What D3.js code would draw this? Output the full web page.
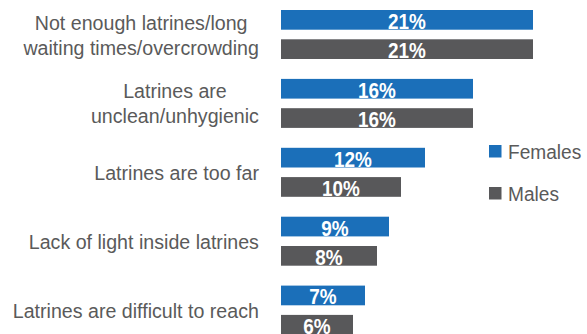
<!DOCTYPE html>
<html>
<head>
<meta charset="utf-8">
<script src="https://cdn.jsdelivr.net/npm/d3@7"></script>
<style>
  html, body { margin: 0; padding: 0; background: #fff; }
  svg { display: block; }
</style>
</head>
<body>
<svg id="chart" width="587" height="334"></svg>
<script>
const categories = [
  "Not enough latrines/long\nwaiting times/overcrowding",
  "Latrines are\nunclean/unhygienic",
  "Latrines are too far",
  "Lack of light inside latrines",
  "Latrines are difficult to reach"
];
const series = ["Females", "Males"];
const females = [21, 16, 12, 9, 7];
const males = [21, 16, 10, 8, 6];
const valueLabels = { Females: females.map(v => v + "%"), Males: males.map(v => v + "%") };

const colors = { Females: "#1b6fb9", Males: "#58585a" };
const textColor = "#5a5a5a";
const labelFont = "'Liberation Sans', Arial, sans-serif";
const labelScale = 0.935;
const legendScale = 0.91;
const valueScale = 0.86;

const svg = d3.select("#chart");

const x = d3.scaleLinear().domain([0, 21]).range([281, 533]);
const y0 = d3.scaleBand().domain(categories).range([10, 10 + 5 * 68.9]).paddingInner(0).paddingOuter(0);
const y1 = d3.scaleBand().domain(series).range([0, 49]).paddingInner(0.3276).paddingOuter(0);

const rows = categories.map((c, i) => ({ cat: c, Females: females[i], Males: males[i], i }));

const groups = svg.selectAll("g.group").data(rows).join("g")
  .attr("class", "group")
  .attr("transform", d => `translate(0,${y0(d.cat)})`);

groups.selectAll("rect").data(d => series.map(s => ({ s, v: d[s], i: d.i }))).join("rect")
  .attr("x", x(0))
  .attr("y", d => y1(d.s))
  .attr("width", d => x(d.v) - x(0))
  .attr("height", y1.bandwidth())
  .attr("fill", d => colors[d.s]);

groups.selectAll("text.val").data(d => series.map(s => ({ s, v: d[s], i: d.i }))).join("text")
  .attr("class", "val")
  .attr("transform", d => `translate(${(x(d.v) + x(0)) / 2},${y1(d.s) + y1.bandwidth() / 2 + 9}) scale(${valueScale},1)`)
  .attr("text-anchor", "middle")
  .attr("fill", "#ffffff")
  .attr("font-family", labelFont)
  .attr("font-weight", "bold")
  .attr("font-size", "22px")
  .text(d => valueLabels[d.s][d.i]);

// Category labels (multi-line, centred block aligned to the right)
const labelRight = 259;
const lineH = 25;
const centerOffset = y1.range()[1] / 2;
rows.forEach(d => {
  const lines = d.cat.split("\n");
  const g = svg.append("g").attr("class", "cat-label");
  const items = lines.map((ln, k) => ({
    y: y0(d.cat) + centerOffset + (k - (lines.length - 1) / 2) * lineH + 7.5,
    t: g.append("text")
      .attr("font-family", labelFont)
      .attr("font-size", "21px")
      .attr("fill", textColor)
      .attr("text-anchor", "middle")
      .text(ln)
  }));
  const w = d3.max(items, it => it.t.node().getComputedTextLength()) * labelScale;
  items.forEach(it => it.t.attr("transform", `translate(${labelRight - w / 2},${it.y}) scale(${labelScale},1)`));
});

// Legend
const legend = svg.append("g").attr("class", "legend");
series.forEach((s, k) => {
  const ly = 145 + k * 42;
  legend.append("rect")
    .attr("x", 489).attr("y", ly)
    .attr("width", 12.5).attr("height", 12.5)
    .attr("fill", colors[s]);
  legend.append("text")
    .attr("transform", `translate(508,${ly + 13.5}) scale(${legendScale},1)`)
    .attr("font-family", labelFont)
    .attr("font-size", "21px")
    .attr("fill", textColor)
    .text(s);
});
</script>
</body>
</html>
